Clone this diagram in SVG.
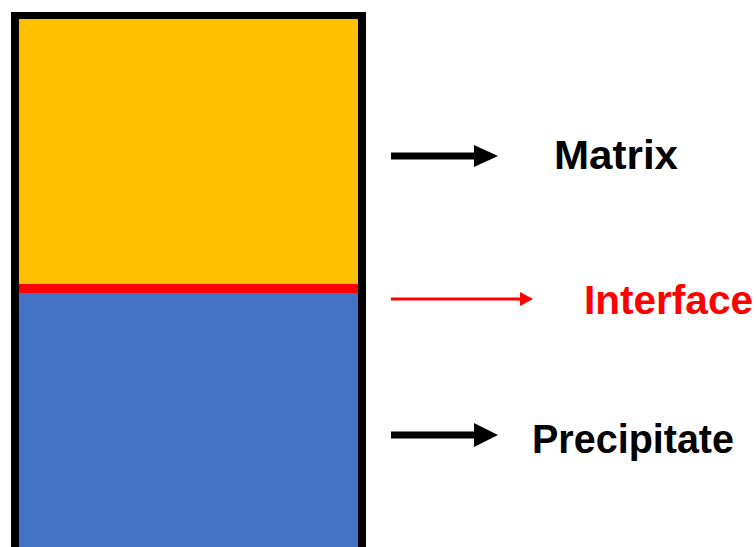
<svg xmlns="http://www.w3.org/2000/svg" width="756" height="547" viewBox="0 0 756 547">
<style>
.lbl{font-family:"Liberation Sans",Arial,sans-serif;font-weight:bold;font-size:40px}
.blk{fill:#000}
</style>
<rect width="756" height="547" fill="#fff"/>
<g id="column">
<rect x="11" y="12" width="355" height="540" fill="#000"/>
<rect id="matrix" x="19" y="19" width="339" height="266" fill="#FFC000"/>
<rect id="precipitate" x="19" y="292" width="339" height="260" fill="#4472C4"/>
<rect id="interface" x="19" y="284" width="339" height="9" fill="#FF0000"/>
</g>
<g id="connectors">
<polygon class="blk" points="391,152.5 474,152.5 474,145 498,156 474,167 474,159.5 391,159.5"/>
<polygon fill="#FF0000" points="391,297.5 520,297.5 520,292 533,299 520,306 520,300.5 391,300.5"/>
<polygon class="blk" points="391,431.5 474,431.5 474,423 498,435 474,447 474,438.5 391,438.5"/>
</g>
<g id="labels">
<text class="lbl" x="554" y="169" textLength="124" lengthAdjust="spacingAndGlyphs">Matrix</text>
<text class="lbl" x="584" y="314" fill="#FF0000" textLength="169" lengthAdjust="spacingAndGlyphs">Interface</text>
<text class="lbl" x="532" y="453" textLength="202" lengthAdjust="spacingAndGlyphs">Precipitate</text>
</g>
</svg>
